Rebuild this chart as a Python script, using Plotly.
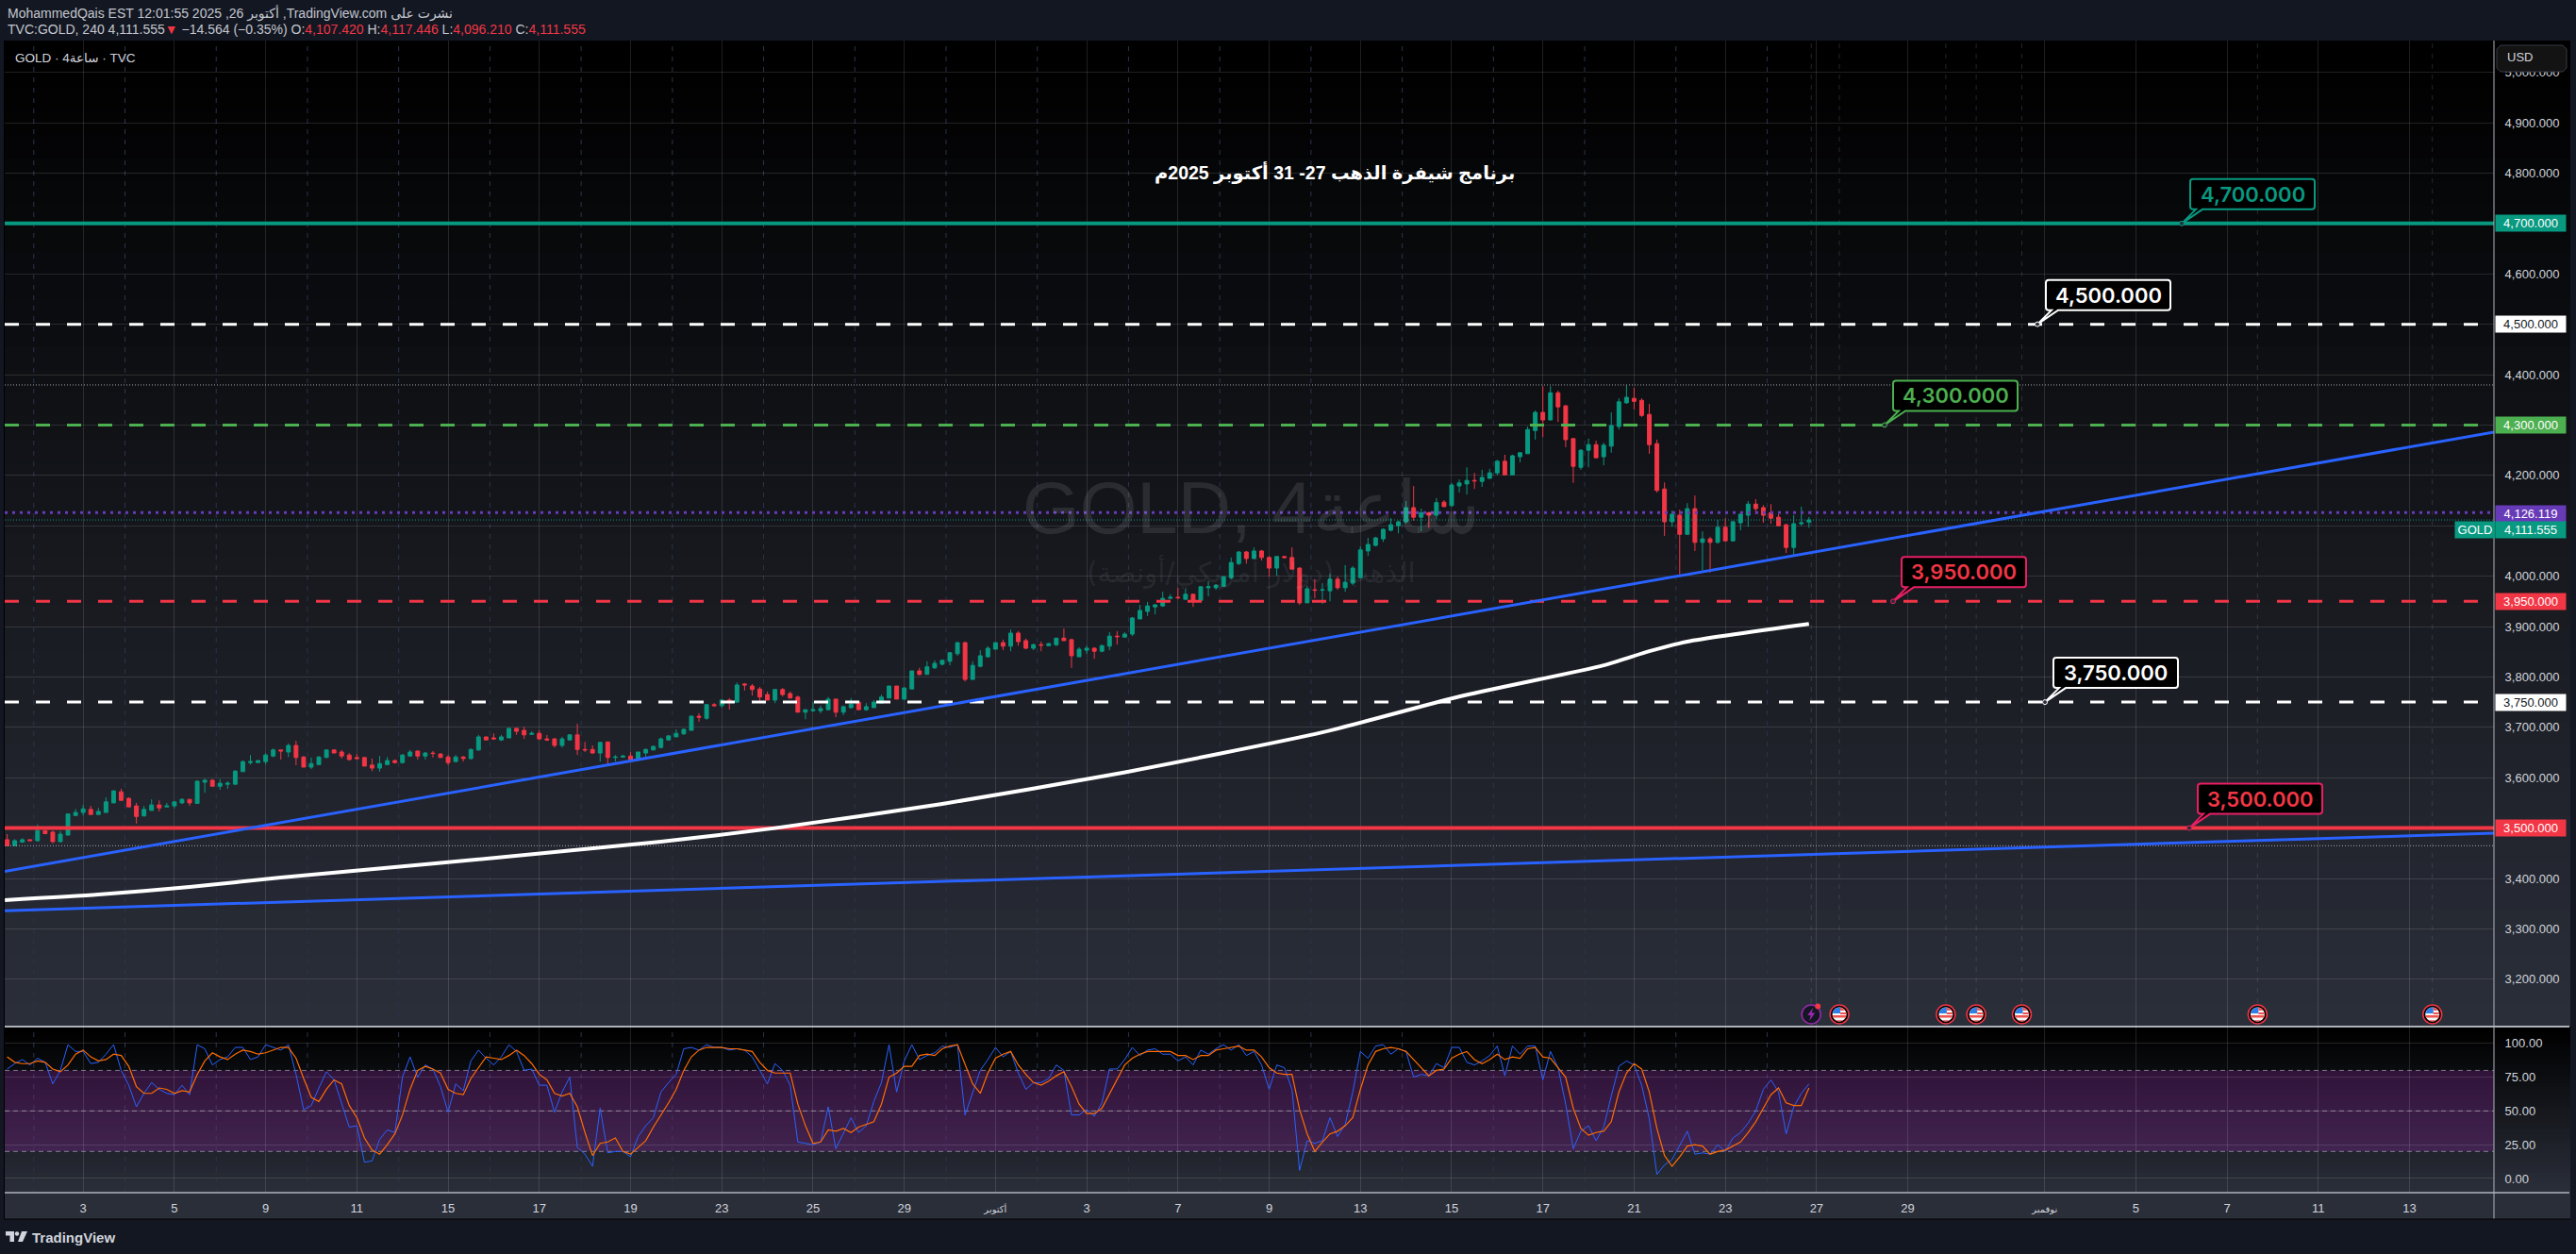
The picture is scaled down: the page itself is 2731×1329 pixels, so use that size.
import plotly.graph_objects as go

# 4h candles (bar number = position in the list)
bar_open = [
    3477,3465,3472,3477,3475,3495,3492,3473,3486,3525,
    3531,3537,3527,3531,3550,3572,3559,3544,3524,3535,
    3546,3542,3544,3550,3557,3549,3591,3595,3583,3587,
    3587,3612,3630,3630,3632,3643,3655,3651,3664,3641,
    3621,3626,3640,3655,3651,3645,3640,3640,3625,3619,
    3626,3634,3630,3643,3653,3643,3649,3647,3641,3632,
    3641,3638,3655,3681,3679,3675,3679,3698,3694,3686,
    3688,3677,3677,3664,3675,3685,3656,3656,3649,3671,
    3640,3641,3643,3636,3649,3655,3660,
    3675,3681,3687,3694,3722,3718,3745,3743,3754,3750,
    3786,3782,3776,3765,3754,3775,3767,3760,3730,3733,
    3733,3735,3756,3730,3739,3750,3735,3739,3748,3758,
    3782,3756,3776,3812,3805,3818,3825,3831,3846,3868,
    3795,3821,3840,3855,3868,3861,3887,3872,3857,3864,
    3862,3864,3877,3874,3840,3853,3857,3851,3861,3881,
    3879,3885,3915,3930,3939,3941,3956,3958,3954,3964,
    3952,3977,3977,3980,3997,4025,4048,4035,4050,4037,
    4016,4039,4037,4016,3947,3973,3972,3971,3994,3977,
    3986,3997,4050,4061,4074,4091,4100,4108,4136,4117,
    4126,4121,4147,4140,4179,4183,4190,4188,4194,4205,
    4228,4201,4237,4243,4289,4325,4310,4364,4338,4273,
    4216,4250,4261,4237,4258,4297,4344,4353,4349,4321,
    4263,4173,4108,4121,4083,4134,4067,4074,4067,4097,
    4070,4106,4121,4143,4136,4126,4117,4102,4057,4104,
    4107.42]
bar_high = [
    3488,3478,3480,3477,3507,3495,3495,3494,3529,3538,
    3546,3544,3540,3561,3574,3578,3561,3550,3544,3557,
    3555,3550,3553,3559,3557,3595,3598,3597,3597,3593,
    3615,3634,3645,3634,3649,3658,3655,3668,3673,3643,
    3640,3643,3655,3656,3655,3649,3647,3640,3638,3643,
    3641,3636,3647,3655,3653,3651,3653,3649,3645,3645,
    3643,3658,3685,3681,3688,3685,3698,3698,3701,3692,
    3694,3685,3679,3681,3686,3707,3671,3664,3671,3671,
    3645,3645,3651,3651,3658,3664,3680,
    3685,3696,3698,3724,3728,3746,3748,3756,3758,3789,
    3788,3786,3780,3771,3776,3778,3771,3763,3735,3750,
    3743,3760,3756,3743,3758,3752,3748,3754,3765,3782,
    3782,3780,3812,3818,3831,3833,3834,3849,3870,3870,
    3831,3853,3861,3868,3874,3894,3891,3876,3866,3870,
    3868,3877,3896,3876,3859,3862,3859,3864,3889,3891,
    3889,3919,3943,3949,3945,3969,3964,3977,3975,3965,
    3980,3990,3984,4000,4037,4050,4050,4057,4052,4040,
    4040,4040,4057,4018,3981,3994,3986,4005,3999,4022,
    4020,4059,4076,4078,4095,4115,4110,4149,4179,4134,
    4127,4155,4151,4185,4192,4216,4205,4211,4213,4231,
    4241,4241,4246,4297,4329,4377,4377,4368,4340,4273,
    4252,4273,4269,4265,4325,4353,4379,4374,4353,4342,
    4271,4186,4130,4132,4145,4160,4089,4078,4112,4115,
    4110,4126,4149,4153,4141,4143,4123,4104,4121,4138,
    4117.446]
bar_low = [
    3465,3464,3472,3475,3473,3488,3470,3472,3486,3524,
    3525,3527,3527,3531,3550,3555,3542,3509,3524,3535,
    3533,3542,3539,3548,3544,3548,3570,3583,3576,3578,
    3587,3612,3626,3630,3626,3641,3636,3641,3625,3621,
    3617,3626,3640,3649,3638,3634,3636,3623,3613,3612,
    3625,3628,3628,3643,3636,3636,3640,3640,3625,3632,
    3632,3636,3653,3675,3675,3673,3679,3685,3677,3685,
    3675,3673,3660,3660,3675,3645,3651,3647,3632,3626,
    3632,3640,3630,3634,3641,3655,3658,
    3675,3681,3685,3694,3711,3715,3741,3739,3735,3748,
    3773,3763,3750,3754,3748,3761,3758,3730,3716,3731,
    3728,3735,3720,3724,3737,3735,3733,3739,3748,3758,
    3756,3754,3776,3803,3805,3816,3823,3823,3842,3791,
    3795,3819,3838,3855,3853,3851,3862,3855,3853,3851,
    3861,3861,3872,3818,3840,3846,3836,3849,3853,3864,
    3879,3881,3915,3921,3924,3939,3954,3954,3954,3939,
    3952,3960,3973,3980,3994,4022,4025,4035,4031,3999,
    4001,4035,4014,3943,3947,3956,3945,3950,3973,3969,
    3982,3997,4040,4059,4068,4089,4085,4104,4110,4089,
    4096,4113,4138,4138,4166,4162,4173,4177,4194,4200,
    4201,4201,4226,4243,4271,4276,4310,4306,4256,4185,
    4211,4216,4235,4220,4245,4291,4342,4331,4316,4243,
    4166,4080,4098,4001,4083,4050,4012,4007,4065,4070,
    4070,4091,4098,4123,4106,4104,4100,4046,4042,4100,
    4096.21]
bar_close = [
    3465,3475,3477,3475,3495,3489,3473,3488,3528,3531,
    3538,3527,3533,3552,3574,3555,3542,3523,3537,3546,
    3540,3544,3552,3557,3550,3593,3595,3583,3589,3589,
    3613,3632,3632,3634,3645,3655,3653,3664,3640,3621,
    3628,3641,3655,3649,3643,3636,3638,3623,3619,3628,
    3634,3630,3645,3651,3643,3649,3648,3640,3630,3641,
    3638,3656,3681,3675,3677,3681,3698,3692,3685,3688,
    3677,3675,3664,3677,3685,3656,3655,3649,3670,3640,
    3641,3643,3636,3651,3656,3662,3677,
    3683,3688,3696,3722,3720,3745,3743,3754,3752,3784,
    3784,3775,3760,3754,3775,3765,3758,3730,3735,3735,
    3737,3756,3730,3741,3746,3735,3741,3750,3760,3782,
    3756,3778,3812,3805,3820,3827,3833,3848,3868,3795,
    3823,3842,3857,3868,3861,3887,3870,3857,3864,3863,
    3866,3877,3872,3842,3855,3857,3851,3862,3881,3880,
    3885,3917,3932,3941,3943,3956,3958,3957,3964,3952,
    3979,3979,3982,3999,4027,4048,4035,4050,4037,4016,
    4039,4037,4014,3947,3975,3972,3973,3994,3977,3988,
    4016,4052,4063,4076,4093,4102,4108,4136,4117,4126,
    4121,4146,4138,4181,4185,4190,4189,4196,4205,4228,
    4201,4239,4245,4291,4325,4310,4364,4336,4271,4218,
    4250,4261,4235,4260,4299,4346,4355,4347,4319,4261,
    4170,4108,4123,4083,4134,4067,4074,4067,4097,4070,
    4108,4123,4143,4134,4121,4115,4100,4057,4104,4106,
    4111.555]

# stochastic RSI pane
stoch_k = [
    81,85,88,84,89,86,70,80,99,94,
    94,85,86,92,99,80,69,53,63,71,
    66,63,62,69,62,99,96,84,88,90,
    97,97,88,90,99,97,95,99,77,51,
    54,67,79,73,55,38,39,12,13,29,
    36,34,75,90,75,84,81,68,49,70,
    65,87,95,89,84,90,99,94,80,81,
    69,69,49,64,75,23,18,9,52,19,
    20,20,16,31,39,45,64,71,77,96,
    97,95,99,97,97,95,96,95,90,80,
    70,85,80,69,27,26,25,27,53,22,
    34,
    45,34,39,57,71,99,64,87,99,88,
    91,93,98,97,99,47,64,80,88,97,
    90,94,78,66,71,71,74,84,80,47,
    47,51,46,56,81,81,88,97,91,95,
    96,92,92,87,90,84,95,92,96,99,
    95,99,91,94,84,66,84,82,66,6,
    28,26,28,45,31,40,64,94,89,98,
    99,92,96,94,75,77,76,85,82,97,
    97,86,84,87,91,98,76,98,92,98,
    98,73,94,82,55,22,35,39,28,38,
    61,83,87,84,69,44,3,10,14,24,
    35,18,19,18,25,20,30,34,41,50,
    66,73,64,33,53,63,70]
stoch_d = [
    90,86,85,85,87,86,81,79,84,92,
    95,90,87,88,92,91,83,68,63,63,
    67,66,63,65,64,77,87,93,90,88,
    92,95,94,92,93,95,97,97,89,74,
    60,57,66,73,70,54,45,30,21,18,
    25,33,47,66,80,83,81,78,66,63,
    62,74,82,90,89,88,91,95,91,85,
    77,73,63,61,63,53,34,17,26,27,
    30,20,18,23,28,38,47,56,66,80,
    90,95,97,97,97,96,96,95,94,86,
    80,78,78,78,55,39,26,27,36,35,
    37,
    34,38,40,42,55,75,78,83,83,91,
    92,91,96,98,99,84,70,63,78,89,
    92,94,84,77,71,69,72,76,79,68,
    55,48,48,52,63,73,84,89,92,94,
    94,94,94,91,91,88,91,91,95,96,
    97,98,95,95,90,82,78,77,77,51,
    33,20,27,33,35,39,45,66,84,94,
    96,97,96,94,88,82,76,80,81,89,
    92,94,88,85,88,92,88,90,89,96,
    97,90,89,82,75,52,37,32,34,35,
    42,64,78,85,81,64,37,17,9,16,
    24,25,24,18,20,21,24,27,34,42,
    52,62,67,56,54,54,67]

# white moving average, read at a few bars
ma_bars = [-0.3,12,24,36,55,86,101,123,146,173,191,210,216,221,237]
ma_values = [3357,3368,3383,3402,3428,3473,3500,3548,3608,3690,3761,3823,3851,3870,3905]

# blue trend lines
trend_up_bars = [-0.32,327.1]
trend_up_values = [3414,4286]
trend_low_bars = [-0.32,327.1]
trend_low_values = [3336,3490]

# horizontal levels
solid_levels = [4700,3500]
dashed_levels = [4500,4300,3950,3750]
level_colors = {4700:"#089981",4500:"#ffffff",4300:"#4caf50",3950:"#f23645",3750:"#ffffff",3500:"#f23645"}
purple_level = 4126.119
last_price = 4111.555
high_mark = 4379.5
low_mark = 3465

# time axis
tick_bars = [10,22,34,46,58,70,82,94,106,118,130,142,154,166,178,190,202,214,226,238,250,268,280,292,304,316]
tick_labels = ["3","5","9","11","15","17","19","23","25","29","أكتوبر","3","7","9","13","15","17","21","23","27","29","نوفمبر","5","7","11","13"]
session_bars = [3.5+12*k for k in range(20)]
event_bars = [241,255,259,265,296,319]
flash_bar = 237.3

price_ticks = [3200+100*k for k in range(19)]
stoch_ticks = [0,25,50,75,100]

W, H = 2731, 1329
LEFT, RIGHT = 5, 2644
TOP, SPLIT, LOW, BOTTOM = 43, 1088, 1264, 1292
SCALE_END = 2725
PRICE_MIN, PRICE_MAX = 3106, 5063
STOCH_MIN, STOCH_MAX = -10.5, 112.4
XMIN, XMAX = -0.32, 327.1
BAR0, BAR_STEP = 7.6, 8.06
UP, DOWN = "#089981", "#f23645"
FONT = "Liberation Sans, DejaVu Sans, Arial"
TXT = "#d1d4dc"


def px(x):
    return x / W


def py(y):
    return 1 - y / H


def price_y(p):
    return TOP + (PRICE_MAX - p) * (SPLIT - TOP) / (PRICE_MAX - PRICE_MIN)


def bar_x(b):
    return BAR0 + BAR_STEP * b


shapes = []
annos = []


def rect(x0, y0, x1, y1, color, layer="below"):
    shapes.append(dict(type="rect", xref="paper", yref="paper", x0=px(x0), x1=px(x1), y0=py(y0), y1=py(y1),
                       fillcolor=color, line_width=0, layer=layer))


def poly(points, color, line=None, lw=0, close=True):
    d = "M" + " L".join(f"{px(a):.5f},{py(b):.5f}" for a, b in points) + (" Z" if close else "")
    shapes.append(dict(type="path", xref="paper", yref="paper", path=d, fillcolor=color,
                       line=dict(color=line or color, width=lw), layer="above"))


def circle(cx, cy, r, fill, line=None, lw=0):
    shapes.append(dict(type="circle", xref="paper", yref="paper", x0=px(cx-r), x1=px(cx+r), y0=py(cy+r), y1=py(cy-r),
                       fillcolor=fill, line=dict(color=line or fill, width=lw), layer="above"))


def label(x, y, text, size, color, anchor="left", weight=None, family=FONT):
    f = dict(size=size, color=color, family=family)
    if weight:
        f["weight"] = weight
    annos.append(dict(xref="paper", yref="paper", x=px(x), y=py(y), text=text, showarrow=False,
                      xanchor=anchor, yanchor="middle", font=f, borderpad=0))


# backgrounds: each pane fades from black to slate
def gradient(y0, y1, x0, x1, steps=42):
    for k in range(steps):
        t = k / (steps - 1)
        c = f"rgb({round(42*t)},{round(46*t)},{round(57*t)})"
        rect(x0, y0 + (y1 - y0) * k / steps, x1, y1, c)


gradient(TOP, SPLIT, 4, SCALE_END)
gradient(SPLIT, LOW, 4, SCALE_END)
rect(4, LOW, SCALE_END, BOTTOM, "#2a2e39")

# dashed session and event lines
for b in session_bars:
    shapes.append(dict(type="line", xref="x", yref="paper", x0=b, x1=b, y0=py(LOW), y1=py(TOP),
                       line=dict(color="rgb(42,52,75)", width=1, dash="5px,6px"), layer="below"))
for b in event_bars + [flash_bar]:
    shapes.append(dict(type="line", xref="x", yref="paper", x0=b, x1=b, y0=py(1063), y1=py(TOP),
                       line=dict(color="rgba(120,123,134,0.3)", width=1, dash="5px,6px"), layer="below"))

# stochastic band
shapes.append(dict(type="rect", xref="x", yref="y2", x0=XMIN, x1=XMAX, y0=20, y1=80,
                   fillcolor="rgba(156,39,176,0.27)", line_width=0, layer="below"))

fig = go.Figure()
fig.add_trace(go.Candlestick(
    x=list(range(len(bar_open))), open=bar_open, high=bar_high, low=bar_low, close=bar_close,
    increasing=dict(line=dict(color=UP, width=1), fillcolor=UP),
    decreasing=dict(line=dict(color=DOWN, width=1), fillcolor=DOWN),
    whiskerwidth=0, xaxis="x", yaxis="y", hoverinfo="skip", name="GOLD"))


def hline(level, color, width, dash=None, yaxis="y"):
    fig.add_trace(go.Scatter(x=[XMIN, XMAX], y=[level, level], mode="lines", yaxis=yaxis, xaxis="x",
                             line=dict(color=color, width=width, dash=dash), hoverinfo="skip"))


hline(high_mark, "#a3a6af", 1, "1px,2px")
hline(low_mark, "#a3a6af", 1, "1px,2px")
hline(last_price, UP, 1, "1px,2px")
hline(purple_level, "#673ab7", 3, "3px,5px")
for lv in solid_levels:
    hline(lv, level_colors[lv], 4)
for lv in dashed_levels:
    hline(lv, level_colors[lv], 3, "15px,18px")

fig.add_trace(go.Scatter(x=trend_up_bars, y=trend_up_values, mode="lines", line=dict(color="#2962ff", width=3), hoverinfo="skip"))
fig.add_trace(go.Scatter(x=trend_low_bars, y=trend_low_values, mode="lines", line=dict(color="#2962ff", width=3), hoverinfo="skip"))
fig.add_trace(go.Scatter(x=ma_bars, y=ma_values, mode="lines", line=dict(color="#ffffff", width=4, shape="spline", smoothing=0.6), hoverinfo="skip"))

for lv in [80, 50, 20]:
    hline(lv, "rgba(190,190,200,0.6)", 1, "5px,4px", yaxis="y2")
fig.add_trace(go.Scatter(x=list(range(len(stoch_k))), y=stoch_k, mode="lines", yaxis="y2", xaxis="x",
                         line=dict(color="#2962ff", width=1), hoverinfo="skip"))
fig.add_trace(go.Scatter(x=list(range(len(stoch_d))), y=stoch_d, mode="lines", yaxis="y2", xaxis="x",
                         line=dict(color="#ff6d00", width=1.2), hoverinfo="skip"))


# callouts on the levels
def callout(level, ax, color, border, text):
    ay = price_y(level)
    l, r = ax + 9, ax + 141
    b, t = ay - 15, ay - 47
    q = 3
    pts = (f"M{px(l+q):.5f},{py(t):.5f} L{px(r-q):.5f},{py(t):.5f} Q{px(r):.5f},{py(t):.5f} {px(r):.5f},{py(t+q):.5f} "
           f"L{px(r):.5f},{py(b-q):.5f} Q{px(r):.5f},{py(b):.5f} {px(r-q):.5f},{py(b):.5f} "
           f"L{px(l+13):.5f},{py(b):.5f} L{px(ax):.5f},{py(ay):.5f} L{px(l+6):.5f},{py(b):.5f} L{px(l+q):.5f},{py(b):.5f} "
           f"Q{px(l):.5f},{py(b):.5f} {px(l):.5f},{py(b-q):.5f} L{px(l):.5f},{py(t+q):.5f} Q{px(l):.5f},{py(t):.5f} {px(l+q):.5f},{py(t):.5f} Z")
    shapes.append(dict(type="path", xref="paper", yref="paper", path=pts, fillcolor="#000000",
                       line=dict(color=border, width=2), layer="above"))
    circle(ax, ay, 2.5, "#2a2e39", border, 1)
    label((l + r) / 2, (t + b) / 2, text, 22, color, "center", weight=600, family="Inter, Liberation Sans")


callout(4700, 2313, UP, UP, "4,700.000")
callout(4500, 2160, "#ffffff", "#ffffff", "4,500.000")
callout(4300, 1998, "#4caf50", "#4caf50", "4,300.000")
callout(3950, 2007, DOWN, "#e91e63", "3,950.000")
callout(3750, 2168, "#ffffff", "#ffffff", "3,750.000")
callout(3500, 2321, DOWN, "#e91e63", "3,500.000")


# coloured price tags on the scale
def price_tag(y, text, bg, fg):
    annos.append(dict(xref="paper", yref="paper", x=px(2645), y=py(y), text=text, showarrow=False,
                      xanchor="left", yanchor="middle", width=74, height=17, align="center", bgcolor=bg,
                      font=dict(size=13, color=fg, family=FONT), borderpad=0))


price_tag(price_y(4700), "4,700.000", UP, "#ffffff")
price_tag(price_y(4500), "4,500.000", "#ffffff", "#131722")
price_tag(price_y(4300), "4,300.000", "#4caf50", "#ffffff")
price_tag(544.5, "4,126.119", "#673ab7", "#ffffff")
price_tag(561.5, "4,111.555", UP, "#ffffff")
price_tag(price_y(3950), "3,950.000", DOWN, "#ffffff")
price_tag(price_y(3750), "3,750.000", "#ffffff", "#131722")
price_tag(price_y(3500), "3,500.000", DOWN, "#ffffff")
annos.append(dict(xref="paper", yref="paper", x=px(2602), y=py(561.5), text="GOLD", showarrow=False,
                  xanchor="left", yanchor="middle", width=42, height=17, align="center", bgcolor=UP,
                  font=dict(size=13, color="#ffffff", family=FONT), borderpad=0))

# USD button
poly([(2651, 48), (2717, 48), (2721, 52), (2721, 72), (2717, 76), (2651, 76), (2647, 72), (2647, 52)], "#131313", "#363a45", 1)
label(2657, 61, "USD", 13, TXT)


# event icons under the price pane
def flag(cx, cy):
    circle(cx, cy, 10, "#000000", "#f23645", 1.5)
    circle(cx, cy, 7.5, "#f7f7f7")
    poly([(cx-7.3, cy-1), (cx-5.6, cy-5), (cx-2.5, cy-7), (cx+1, cy-7.4), (cx+1, cy-1)], "#2f7fe8")
    poly([(cx+1, cy-7.4), (cx+3.5, cy-6.6), (cx+6, cy-4), (cx+1, cy-4)], "#ef5350")
    poly([(cx+1, cy-2), (cx+7.2, cy-2), (cx+7.5, cy), (cx+1, cy)], "#ef5350")
    poly([(cx-7.4, cy+1), (cx+7.4, cy+1), (cx+6.6, cy+3.5), (cx-6.6, cy+3.5)], "#ef5350")
    poly([(cx-4, cy+6.3), (cx+4, cy+6.3), (cx+1.5, cy+7.4), (cx-1.5, cy+7.4)], "#ef5350")


for b in event_bars:
    flag(bar_x(b), 1075)
fx = bar_x(flash_bar)
circle(fx, 1075, 10, "#131722", "#9c27b0", 1.5)
poly([(fx+2, 1068), (fx-4, 1076), (fx-0.5, 1076), (fx-2, 1082), (fx+4, 1073.5), (fx+0.5, 1073.5)], "#9c27b0")
circle(fx+7, 1066.5, 3, "#f23645")

# frame lines
for y0, col, w in [(SPLIT, "#e0e3eb", 1.5), (LOW, "#b2b5be", 1.5)]:
    shapes.append(dict(type="line", xref="paper", yref="paper", x0=px(LEFT), x1=px(SCALE_END-1), y0=py(y0), y1=py(y0),
                       line=dict(color=col, width=w), layer="above"))
shapes.append(dict(type="line", xref="paper", yref="paper", x0=px(RIGHT), x1=px(RIGHT), y0=py(TOP), y1=py(BOTTOM),
                   line=dict(color="#b2b5be", width=1), layer="above"))
shapes.append(dict(type="line", xref="paper", yref="paper", x0=px(4.5), x1=px(4.5), y0=py(TOP), y1=py(BOTTOM),
                   line=dict(color="#000000", width=1), layer="above"))
shapes.append(dict(type="line", xref="paper", yref="paper", x0=px(4), x1=px(SCALE_END), y0=py(BOTTOM), y1=py(BOTTOM),
                   line=dict(color="#000000", width=1), layer="above"))

# header and texts
label(7, 14, "MohammedQais EST 12:01:55 2025 ,26 أكتوبر ,TradingView.com نشرت على", 14, "#c3c6ce")
red = lambda s: f'<span style="color:#f23645">{s}</span>'
label(7, 31, f"TVC:GOLD, 240 4,111.555{red('▼')} −14.564 (−0.35%) O:{red('4,107.420')} H:{red('4,117.446')} L:{red('4,096.210')} C:{red('4,111.555')}", 14, "#c3c6ce")
label(15, 62, "GOLD · 4ساعة · TVC", 13.5, TXT)
label(1415, 183, "<b>برنامج شيفرة الذهب 27- 31 أكتوبر 2025م</b>", 19.5, "#ffffff", "center")
label(1326, 538, "GOLD, 4ساعة", 78, "rgba(255,255,255,0.1)", "center")
label(1326, 606, "الذهب (دولار أمريكي/أونصة)", 29.5, "rgba(255,255,255,0.08)", "center", family="DejaVu Sans")

# TradingView logo
poly([(6, 1305), (15, 1305), (15, 1316), (10.5, 1316), (10.5, 1309.5), (6, 1309.5)], "#d1d4dc")
circle(18, 1307.5, 2.2, "#d1d4dc")
poly([(23, 1305), (29, 1305), (24, 1316), (19, 1316)], "#d1d4dc")
label(33, 1311, "<b>TradingView</b>", 15, TXT)

# the month names sit smaller than the day numbers
tick_text = [f'<span style="font-size:10px">{t}</span>' if len(t) > 2 else t for t in tick_labels]

grid = "rgba(255,255,255,0.12)"
tick_font = dict(size=13, color=TXT, family=FONT)
fig.update_layout(
    width=W, height=H, margin=dict(l=0, r=0, t=0, b=0), showlegend=False, hovermode=False,
    paper_bgcolor="#131722", plot_bgcolor="rgba(0,0,0,0)", font=dict(family=FONT),
    xaxis=dict(domain=[px(LEFT), px(RIGHT)], range=[XMIN, XMAX], anchor="y2", tickmode="array",
               tickvals=tick_bars, ticktext=tick_text, tickfont=tick_font, showgrid=True, gridcolor=grid,
               gridwidth=1, zeroline=False, ticks="outside", ticklen=4, tickcolor="rgba(0,0,0,0)",
               rangeslider=dict(visible=False), showline=False),
    yaxis=dict(domain=[py(SPLIT), py(TOP)], range=[PRICE_MIN, PRICE_MAX], side="right", anchor="x",
               tickmode="array", tickvals=price_ticks, tickformat=",.3f", tickfont=tick_font,
               gridcolor=grid, zeroline=False, ticks="outside", ticklen=8, tickcolor="rgba(0,0,0,0)"),
    yaxis2=dict(domain=[py(LOW), py(SPLIT)], range=[STOCH_MIN, STOCH_MAX], side="right", anchor="x",
                tickmode="array", tickvals=stoch_ticks, tickformat=".2f", tickfont=tick_font,
                gridcolor=grid, zeroline=False, ticks="outside", ticklen=8, tickcolor="rgba(0,0,0,0)"),
    shapes=shapes, annotations=annos,
)

fig.write_html("out.html", config={"displayModeBar": False},
               post_script="document.body.style.margin='0';document.body.style.background='#131722';document.documentElement.style.overflow='hidden';")
